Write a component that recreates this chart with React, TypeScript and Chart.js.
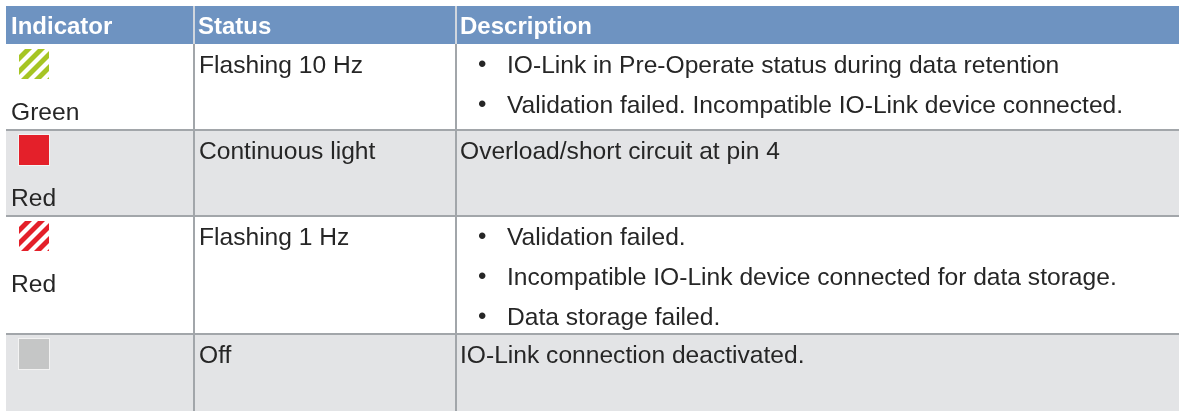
import React, { useEffect, useRef } from "react";
import { Chart, registerables } from "chart.js";

Chart.register(...registerables);

// ---- content ----
const headers = ["Indicator", "Status", "Description"];
const indicatorLabels = ["Green", "Red", "Red", ""];
const indicatorColors = ["green", "red", "red", "off"];
const indicatorModes = ["flashing", "steady", "flashing", "steady"];
const statuses = ["Flashing 10 Hz", "Continuous light", "Flashing 1 Hz", "Off"];
const descriptionBullets: (string[] | null)[] = [
  ["IO-Link in Pre-Operate status during data retention", "Validation failed. Incompatible IO-Link device connected."],
  null,
  ["Validation failed.", "Incompatible IO-Link device connected for data storage.", "Data storage failed."],
  null,
];
const descriptionTexts = ["", "Overload/short circuit at pin 4", "", "IO-Link connection deactivated."];

// ---- layout (table coordinates in px) ----
const W = 1184;
const H = 411;
const COL_X = [6, 194, 456, 1179];
const ROW_Y = [6, 44, 130, 216, 334, 420];

const COLORS: Record<string, string> = {
  green: "#a6c523",
  red: "#e4202a",
  off: "#c5c6c6",
};
const HEADER_BG = "#6e93c1";
const STRIPE_BG = "#e3e4e6";
const GRID = "#a2a6aa";
const TEXT = "#262626";
const FONT = '"Liberation Sans", Arial, Helvetica, sans-serif';
const BODY = `24.6px ${FONT}`;

const tablePlugin = {
  id: "tablePlugin",
  afterDraw(chart: any) {
    const ctx: CanvasRenderingContext2D = chart.ctx;
    const xs = chart.scales.x;
    const ys = chart.scales.y;
    const px = (v: number) => xs.getPixelForValue(v);
    const py = (v: number) => ys.getPixelForValue(v);
    ctx.save();

    // header
    ctx.fillStyle = HEADER_BG;
    ctx.fillRect(px(COL_X[0]), py(ROW_Y[0]), px(COL_X[3]) - px(COL_X[0]), py(ROW_Y[1]) - py(ROW_Y[0]));
    ctx.fillStyle = "#ffffff";
    ctx.font = `bold 24px ${FONT}`;
    ctx.textBaseline = "alphabetic";
    headers.forEach((h, i) => {
      ctx.fillText(h, px(COL_X[i] + (i === 0 ? 5 : 4)), py(ROW_Y[0] + 28));
    });

    // rows
    statuses.forEach((st, r) => {
      const top = ROW_Y[r + 1];
      const bot = ROW_Y[r + 2];
      if (r % 2 === 1) {
        ctx.fillStyle = STRIPE_BG;
        ctx.fillRect(px(COL_X[0]), py(top), px(COL_X[3]) - px(COL_X[0]), py(bot) - py(top));
      }
      // icon
      const ix = px(COL_X[0] + 13);
      const iy = py(top + 5);
      const isz = 30;
      const col = COLORS[indicatorColors[r]];
      if (indicatorModes[r] === "flashing") {
        ctx.save();
        ctx.beginPath();
        ctx.rect(ix, iy, isz, isz);
        ctx.clip();
        ctx.fillStyle = "#ffffff";
        ctx.fillRect(ix, iy, isz, isz);
        ctx.fillStyle = col;
        const period = 13;
        const band = 7;
        for (let k = -4; k < 8; k++) {
          const o = ix + k * period + 2;
          ctx.beginPath();
          ctx.moveTo(o, iy + isz);
          ctx.lineTo(o + band, iy + isz);
          ctx.lineTo(o + band + isz, iy);
          ctx.lineTo(o + isz, iy);
          ctx.closePath();
          ctx.fill();
        }
        ctx.restore();
      } else {
        ctx.fillStyle = "#f3f3f3";
        ctx.fillRect(ix - 1, iy - 1, isz + 2, isz + 2);
        ctx.fillStyle = col;
        ctx.fillRect(ix, iy, isz, isz);
      }

      ctx.fillStyle = TEXT;
      ctx.font = BODY;
      if (indicatorLabels[r]) ctx.fillText(indicatorLabels[r], px(COL_X[0] + 5), py(top + 76));
      ctx.fillText(st, px(COL_X[1] + 5), py(top + 29));

      const bullets = descriptionBullets[r];
      if (bullets) {
        bullets.forEach((b, k) => {
          const by = py(top + 29 + k * 40);
          ctx.font = `24px ${FONT}`;
          ctx.fillText("\u2022", px(COL_X[2] + 22), by - 1);
          ctx.font = BODY;
          ctx.fillText(b, px(COL_X[2] + 51), by);
        });
      } else {
        ctx.fillText(descriptionTexts[r], px(COL_X[2] + 4), py(top + 29));
      }
    });

    // grid lines
    ctx.strokeStyle = GRID;
    ctx.lineWidth = 2;
    for (let r = 2; r < ROW_Y.length - 1; r++) {
      ctx.beginPath();
      ctx.moveTo(px(COL_X[0]), py(ROW_Y[r]));
      ctx.lineTo(px(COL_X[3]), py(ROW_Y[r]));
      ctx.stroke();
    }
    ctx.strokeStyle = "#d0d6de";
    [1, 2].forEach((c) => {
      ctx.beginPath();
      ctx.moveTo(px(COL_X[c]), py(ROW_Y[0]));
      ctx.lineTo(px(COL_X[c]), py(ROW_Y[1]));
      ctx.stroke();
    });
    ctx.strokeStyle = GRID;
    [1, 2].forEach((c) => {
      ctx.beginPath();
      ctx.moveTo(px(COL_X[c]), py(ROW_Y[1]));
      ctx.lineTo(px(COL_X[c]), py(H));
      ctx.stroke();
    });
    ctx.restore();
  },
};

export default function App() {
  const ref = useRef<HTMLCanvasElement | null>(null);
  useEffect(() => {
    if (!ref.current) return;
    const chart = new Chart(ref.current, {
      type: "scatter",
      data: { datasets: [{ data: [] }] },
      options: {
        animation: false,
        responsive: true,
        maintainAspectRatio: false,
        layout: { padding: 0 },
        plugins: { legend: { display: false }, tooltip: { enabled: false } },
        scales: {
          x: { type: "linear", min: 0, max: W, display: false },
          y: { type: "linear", min: 0, max: H, reverse: true, display: false },
        },
      },
      plugins: [tablePlugin],
    });
    return () => chart.destroy();
  }, []);
  return (
    <div style={{ position: "fixed", left: 0, top: 0, width: W, height: H, background: "#fff" }}>
      <canvas ref={ref} />
    </div>
  );
}
